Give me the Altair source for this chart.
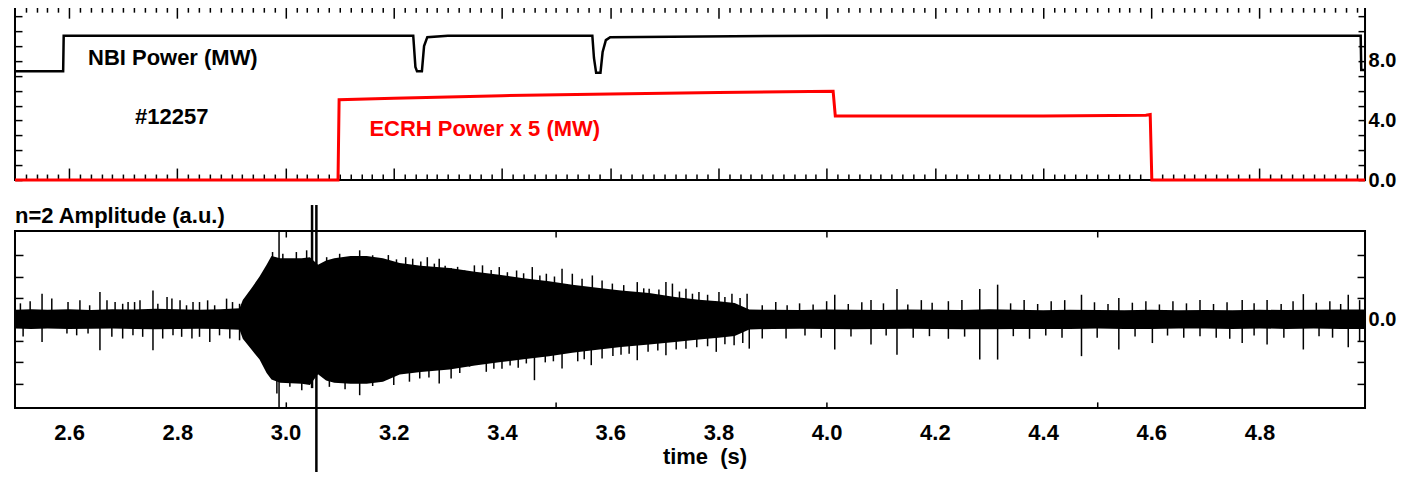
import altair as alt
import pandas as pd

# ---------------- data ----------------
# top panel: NBI power (MW)
nbi_t = [2.500, 2.589, 2.590, 3.236, 3.240, 3.243, 3.252, 3.256, 3.262, 3.300,
         3.567, 3.570, 3.574, 3.582, 3.586, 3.592, 3.600, 4.000, 4.500, 4.987, 4.988, 4.995]
nbi_v = [7.3, 7.3, 9.7, 9.7, 7.6, 7.3, 7.3, 9.0, 9.6, 9.7,
         9.7, 8.2, 7.2, 7.2, 8.6, 9.4, 9.6, 9.7, 9.7, 9.7, 7.4, 7.4]

# top panel: ECRH power x 5 (MW)
ecrh_t = [2.500, 3.097, 3.099, 3.200, 3.400, 3.600, 3.800, 4.012, 4.016, 4.200, 4.400, 4.590, 4.598, 4.601, 4.995]
ecrh_v = [0.0, 0.0, 5.4, 5.5, 5.67, 5.78, 5.88, 5.97, 4.3, 4.3, 4.3, 4.35, 4.4, 0.0, 0.0]

# bottom panel: n=2 amplitude, solid envelope (a.u.)
env_t = [2.500, 2.530, 2.560, 2.600, 2.640, 2.680, 2.720, 2.760, 2.800, 2.840, 2.880, 2.915,
         2.921, 2.937, 2.952, 2.965, 2.974, 2.990, 3.030, 3.045, 3.060, 3.075, 3.090,
         3.120, 3.150, 3.180, 3.211, 3.250, 3.303, 3.350, 3.395, 3.440, 3.487, 3.530, 3.580,
         3.620, 3.672, 3.720, 3.764, 3.800, 3.830, 3.857, 3.900, 3.950, 4.000, 4.050, 4.100,
         4.150, 4.200, 4.250, 4.300, 4.350, 4.400, 4.450, 4.500, 4.550, 4.600, 4.650, 4.700,
         4.750, 4.800, 4.850, 4.900, 4.950, 4.995]
env_up = [0.45, 0.48, 0.45, 0.47, 0.44, 0.48, 0.46, 0.50, 0.47, 0.45, 0.48, 0.52,
          0.90, 1.45, 2.00, 2.55, 2.95, 2.85, 2.85, 2.90, 2.55, 2.75, 2.85,
          2.95, 2.95, 2.85, 2.63, 2.50, 2.40, 2.22, 2.08, 1.92, 1.78, 1.62, 1.47,
          1.35, 1.23, 1.05, 0.92, 0.85, 0.77, 0.46, 0.45, 0.44, 0.46, 0.45, 0.44,
          0.46, 0.45, 0.44, 0.47, 0.45, 0.43, 0.45, 0.44, 0.43, 0.45, 0.43, 0.44,
          0.43, 0.45, 0.44, 0.45, 0.46, 0.46]
env_lo = [-0.42, -0.44, -0.42, -0.45, -0.43, -0.42, -0.44, -0.46, -0.44, -0.43, -0.44, -0.48,
          -0.90, -1.40, -1.87, -2.50, -2.80, -2.95, -3.00, -3.05, -2.55, -2.85, -2.95,
          -3.00, -3.00, -2.90, -2.57, -2.45, -2.33, -2.15, -2.00, -1.85, -1.71, -1.55, -1.40,
          -1.28, -1.17, -1.05, -0.94, -0.85, -0.77, -0.47, -0.44, -0.43, -0.44, -0.46, -0.44,
          -0.43, -0.44, -0.46, -0.46, -0.44, -0.44, -0.44, -0.42, -0.44, -0.44, -0.42, -0.42,
          -0.44, -0.42, -0.44, -0.42, -0.44, -0.44]

# bottom panel: upward hairs (time, top)
up_t = [2.510, 2.528, 2.550, 2.568, 2.598, 2.620, 2.638, 2.657, 2.670, 2.685, 2.699, 2.709, 2.721,
        2.731, 2.755, 2.764, 2.781, 2.790, 2.805, 2.817, 2.829, 2.841, 2.856, 2.869, 2.891, 2.902,
        2.915,
        2.976, 2.995, 3.020, 3.039, 3.076, 3.100, 3.137, 3.161, 3.190, 3.205, 3.222, 3.235, 3.250,
        3.262, 3.275, 3.284, 3.295, 3.306, 3.318,
        3.331, 3.349, 3.364, 3.380, 3.395, 3.410, 3.427, 3.440, 3.456, 3.470, 3.482, 3.497, 3.511,
        3.530, 3.548, 3.567, 3.585, 3.604, 3.625, 3.650, 3.662,
        3.672, 3.690, 3.703, 3.715, 3.728, 3.740, 3.752, 3.764, 3.780, 3.801, 3.812, 3.825, 3.840,
        3.853, 3.881, 3.906, 3.927,
        3.950, 3.975, 4.000, 4.015, 4.040, 4.065, 4.082, 4.105, 4.130, 4.150, 4.175, 4.195, 4.225,
        4.250, 4.283, 4.316, 4.340, 4.365, 4.390, 4.415, 4.440, 4.471, 4.495, 4.520, 4.540, 4.565,
        4.590, 4.615, 4.640, 4.665, 4.690, 4.715, 4.740, 4.768, 4.790, 4.814, 4.840, 4.862, 4.881,
        4.905, 4.930, 4.950, 4.964, 4.985]
up_v = [0.75, 0.85, 1.20, 0.97, 0.81, 0.89, 0.66, 1.28, 0.89, 0.81, 0.73, 0.81, 0.81,
        0.89, 1.35, 0.73, 1.05, 0.97, 0.89, 0.66, 0.81, 0.81, 0.89, 0.66, 0.97, 0.81,
        0.73,
        3.14, 3.06, 3.14, 3.22, 2.90, 3.06, 3.22, 2.99, 3.00, 2.80, 2.90, 2.83, 2.70,
        2.90, 2.60, 2.83, 2.50, 2.40, 2.45,
        2.28, 2.52, 2.52, 2.30, 2.44, 2.20, 2.28, 2.15, 2.44, 2.05, 2.13, 2.00, 2.36,
        2.13, 1.90, 2.05, 1.82, 1.67, 1.60, 1.74, 1.45,
        1.43, 1.40, 1.74, 1.67, 1.30, 1.43, 1.20, 1.28, 1.15, 1.28, 1.05, 1.20, 1.00,
        1.20, 0.66, 0.81, 0.66,
        0.75, 0.70, 0.85, 1.15, 0.72, 0.80, 0.90, 0.75, 1.42, 0.70, 0.90, 0.78, 0.85,
        0.90, 1.42, 1.62, 0.75, 0.90, 0.72, 0.85, 0.90, 1.15, 0.80, 0.72, 1.00, 0.78,
        0.85, 0.70, 0.85, 0.75, 0.90, 0.72, 0.80, 0.90, 0.75, 0.90, 0.72, 0.85, 1.18,
        0.78, 0.85, 0.72, 1.15, 0.90]

# bottom panel: downward hairs (time, bottom)
dn_t = [2.515, 2.550, 2.596, 2.614, 2.635, 2.657, 2.679, 2.699, 2.718, 2.736, 2.755, 2.773, 2.792,
        2.808, 2.827, 2.841, 2.860, 2.878, 2.897, 2.915,
        2.984, 3.008, 3.030, 3.081, 3.110, 3.137, 3.161, 3.200, 3.229, 3.248, 3.265, 3.284, 3.306,
        3.322, 3.340, 3.371, 3.385, 3.400, 3.415, 3.430, 3.445, 3.460, 3.480, 3.495, 3.511, 3.540,
        3.552, 3.565, 3.585, 3.605, 3.620, 3.635, 3.650, 3.670, 3.688, 3.703, 3.722, 3.740, 3.760,
        3.780, 3.796, 3.812, 3.829, 3.845, 3.857, 3.881, 3.925,
        3.960, 3.990, 4.015, 4.045, 4.082, 4.110, 4.130, 4.160, 4.190, 4.225, 4.255, 4.283, 4.316,
        4.345, 4.375, 4.405, 4.435, 4.471, 4.500, 4.540, 4.570, 4.602, 4.630, 4.660, 4.690, 4.720,
        4.745, 4.768, 4.790, 4.814, 4.845, 4.881, 4.910, 4.935, 4.964, 4.985]
dn_v = [-0.80, -1.05, -0.66, -0.74, -0.66, -1.43, -0.81, -0.89, -0.74, -0.81, -1.43, -0.89, -0.74,
        -0.81, -0.89, -0.81, -1.05, -0.74, -0.89, -0.97,
        -3.45, -3.14, -3.30, -3.14, -3.25, -3.53, -3.10, -3.05, -2.90, -2.75, -2.70, -2.99, -2.75,
        -2.50, -2.20, -2.44, -2.30, -2.30, -2.15, -2.25, -2.05, -2.83, -2.00, -1.95, -2.29, -1.95,
        -1.85, -2.13, -1.82, -1.70, -1.65, -1.60, -1.90, -1.50, -1.45, -1.67, -1.40, -1.36, -1.30,
        -1.25, -1.51, -1.15, -1.20, -1.10, -1.36, -0.89, -0.89,
        -0.75, -0.85, -1.40, -0.80, -1.17, -0.75, -1.64, -0.85, -0.78, -0.90, -0.80, -1.87, -1.87,
        -0.78, -0.90, -0.75, -0.85, -1.71, -0.85, -1.40, -0.80, -1.10, -0.75, -0.85, -0.78, -0.85,
        -0.90, -1.10, -0.75, -1.17, -0.85, -1.40, -0.78, -0.85, -1.30, -1.00]

# large off-scale spikes
big_t = [3.049, 3.057]
big_up = [5.33, 5.33]
big_lo = [-3.20, -7.23]
thin_t = [2.988]
thin_up = [4.12]
thin_lo = [-4.12]

# annotations
nbi_label = "NBI Power (MW)"
shot_label = "#12257"
ecrh_label = "ECRH Power x 5 (MW)"
amp_label = "n=2 Amplitude (a.u.)"
x_title = "time\u00a0\u00a0(s)"

# ticks
x_major = [2.6, 2.8, 3.0, 3.2, 3.4, 3.6, 3.8, 4.0, 4.2, 4.4, 4.6, 4.8]
x_minor = [round(2.5 + 0.02 * i, 2) for i in range(1, 125)
           if abs(round((2.5 + 0.02 * i) * 5, 6) - round((2.5 + 0.02 * i) * 5)) > 1e-6]
x_half = [3.0, 3.5, 4.0, 4.5]
y_ticks_top = list(range(0, 12))
y_labels_top = [0, 4, 8]
y_ticks_bot = [-3, -2, -1, 0, 1, 2, 3]
y_labels_bot = [0]

# ---------------- chart ----------------
FONT = "Liberation Sans"
W, HT, HB = 1351, 174, 177

xs = alt.Scale(domain=[2.5, 4.995], nice=False, zero=False)
ys_top = alt.Scale(domain=[0, 11.68], nice=False, zero=False)
ys_bot = alt.Scale(domain=[-4.12, 4.12], nice=False, zero=False)


def tick_axis(orient, offset, values, size):
    return alt.Axis(orient=orient, offset=offset, values=values, tickSize=size,
                    labels=False, domain=False, grid=False, title=None, minExtent=0,
                    ticks=True, tickColor="black", tickWidth=1.5)


def label_axis_y(values):
    return alt.Axis(orient="right", values=values, format=".1f", ticks=False, tickSize=0,
                    domain=False, grid=False, title=None, labelPadding=3, minExtent=0,
                    labelFont=FONT, labelFontSize=20, labelFontWeight="bold",
                    labelColor="black")


def carrier(df, ys, xaxis, yaxis):
    return alt.Chart(df).mark_point(opacity=0, size=0, strokeWidth=0).encode(
        x=alt.X("t:Q", scale=xs, axis=xaxis),
        y=alt.Y("v:Q", scale=ys, axis=yaxis),
    )


def note(text, t, v, color):
    return alt.Chart(pd.DataFrame({"label": [text]})).mark_text(
        font=FONT, fontSize=22, fontWeight="bold", color=color, align="left", baseline="middle"
    ).encode(
        x=alt.X(datum=t, scale=xs, axis=None),
        y=alt.Y(datum=v, scale=ys_top, axis=None),
        text="label:N",
    )


nbi_df = pd.DataFrame({"t": nbi_t, "v": nbi_v})
ecrh_df = pd.DataFrame({"t": ecrh_t, "v": ecrh_v})

nbi_line = alt.Chart(nbi_df).mark_line(color="black", strokeWidth=2.5).encode(
    x=alt.X("t:Q", scale=xs, axis=None), y=alt.Y("v:Q", scale=ys_top, axis=None))
ecrh_line = alt.Chart(ecrh_df).mark_line(color="#ff0000", strokeWidth=3).encode(
    x=alt.X("t:Q", scale=xs, axis=None), y=alt.Y("v:Q", scale=ys_top, axis=None))

top = alt.layer(
    nbi_line,
    ecrh_line,
    note(nbi_label, 2.635, 8.2, "black"),
    note(shot_label, 2.722, 4.22, "black"),
    note(ecrh_label, 3.155, 3.43, "#ff0000"),
    carrier(nbi_df, ys_top, tick_axis("bottom", -HT, x_minor, 6), label_axis_y(y_labels_top)),
    carrier(nbi_df, ys_top, tick_axis("bottom", -HT, x_major, 12), tick_axis("right", -W, y_ticks_top, 7)),
    carrier(nbi_df, ys_top, tick_axis("top", -HT, x_minor, 6), tick_axis("left", -W, y_ticks_top, 7)),
    carrier(nbi_df, ys_top, tick_axis("top", -HT, x_major, 12), None),
).resolve_axis(x="independent", y="independent").properties(width=W, height=HT)

env_df = pd.DataFrame({"t": env_t, "up": env_up, "lo": env_lo})
up_df = pd.DataFrame({"t": up_t, "v": up_v})
dn_df = pd.DataFrame({"t": dn_t, "v": dn_v})
big_df = pd.DataFrame({"t": big_t, "up": big_up, "lo": big_lo})
thin_df = pd.DataFrame({"t": thin_t, "up": thin_up, "lo": thin_lo})
bot_carrier_df = pd.DataFrame({"t": env_t, "v": env_up})

envelope = alt.Chart(env_df).mark_area(color="black", opacity=1, interpolate="linear").encode(
    x=alt.X("t:Q", scale=xs, axis=None),
    y=alt.Y("up:Q", scale=ys_bot, axis=None),
    y2="lo:Q",
)


def hairs(df):
    return alt.Chart(df).mark_rule(color="black", strokeWidth=1.5).encode(
        x=alt.X("t:Q", scale=xs, axis=None),
        y=alt.Y("v:Q", scale=ys_bot, axis=None),
        y2=alt.datum(0),
    )


big = alt.Chart(big_df).mark_rule(color="black", strokeWidth=2.5).encode(
    x=alt.X("t:Q", scale=xs, axis=None),
    y=alt.Y("up:Q", scale=ys_bot, axis=None),
    y2="lo:Q",
)
thin = alt.Chart(thin_df).mark_rule(color="black", strokeWidth=1.5).encode(
    x=alt.X("t:Q", scale=xs, axis=None),
    y=alt.Y("up:Q", scale=ys_bot, axis=None),
    y2="lo:Q",
)
amp_text = alt.Chart(pd.DataFrame({"label": [amp_label]})).mark_text(
    font=FONT, fontSize=22, fontWeight="bold", color="black", align="left", baseline="middle"
).encode(
    x=alt.X(datum=2.5, scale=xs, axis=None),
    y=alt.Y(datum=4.82, scale=ys_bot, axis=None),
    text="label:N",
)

x_label_axis = alt.Axis(orient="bottom", values=x_major, format=".1f", ticks=False, tickSize=0,
                        domain=False, grid=False, labelPadding=25, labelBaseline="middle",
                        labelFont=FONT, labelFontSize=22, labelFontWeight="bold", labelColor="black",
                        title=x_title, titleFont=FONT, titleFontSize=22, titleFontWeight="bold",
                        titleColor="black", titleX=690, titleY=56, titleBaseline="alphabetic",
                        titleAlign="center", labelFlush=False, labelOverlap=False, minExtent=0)

bottom = alt.layer(
    envelope,
    hairs(up_df),
    hairs(dn_df),
    thin,
    big,
    amp_text,
    carrier(bot_carrier_df, ys_bot, x_label_axis, label_axis_y(y_labels_bot)),
    carrier(bot_carrier_df, ys_bot, tick_axis("bottom", -HB, x_half, 6), tick_axis("right", -W, y_ticks_bot, 8)),
    carrier(bot_carrier_df, ys_bot, tick_axis("top", -HB, x_half, 6), tick_axis("left", -W, y_ticks_bot, 8)),
).resolve_axis(x="independent", y="independent").properties(width=W, height=HB)

chart = alt.vconcat(top, bottom, spacing=51, bounds="flush").configure(
    padding={"left": 0, "top": -4, "right": 0, "bottom": -6},
    background="white",
).configure_view(stroke="black", strokeWidth=2)

chart.save("out.html", embed_options={"renderer": "svg", "actions": False})
